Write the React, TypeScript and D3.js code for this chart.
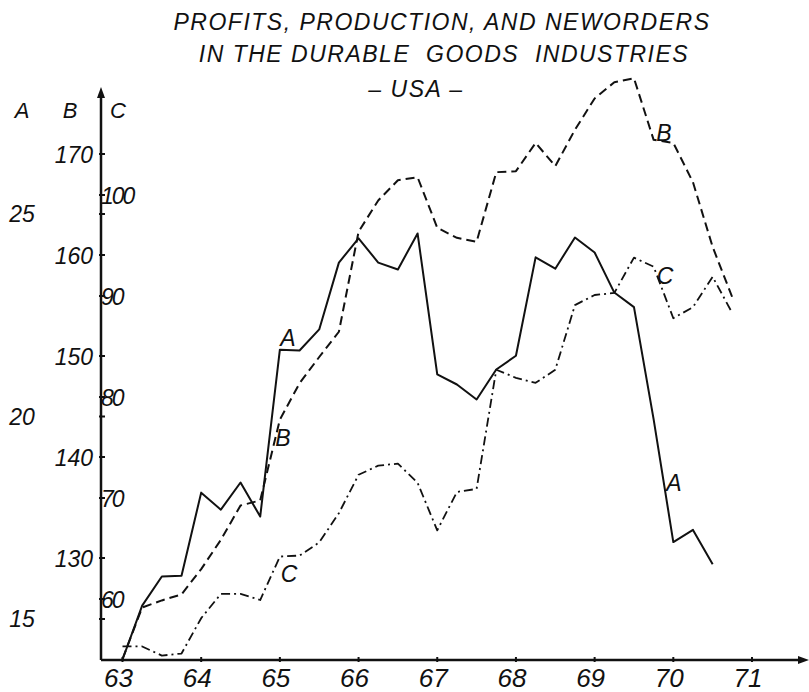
import React from "react";
import * as d3 from "d3";

// ---- data ----
const quarters = [
  63, 63.25, 63.5, 63.75, 64, 64.25, 64.5, 64.75,
  65, 65.25, 65.5, 65.75, 66, 66.25, 66.5, 66.75,
  67, 67.25, 67.5, 67.75, 68, 68.25, 68.5, 68.75,
  69, 69.25, 69.5, 69.75, 70, 70.25, 70.5, 70.75,
];
// A: profits (ends 70.5)
const profitsA = [
  14.0, 15.33, 16.05, 16.07, 18.12, 17.7, 18.37, 17.53,
  21.65, 21.63, 22.15, 23.8, 24.4, 23.8, 23.63, 24.52,
  21.04, 20.79, 20.42, 21.16, 21.5, 23.93, 23.65, 24.42,
  24.05, 23.06, 22.7, 19.93, 16.9, 17.2, 16.35,
];
// B: production
const productionB = [
  120.0, 125.1, 125.8, 126.4, 128.9, 131.8, 135.2, 135.7,
  143.7, 147.3, 149.9, 152.4, 162.3, 165.4, 167.4, 167.7,
  162.7, 161.7, 161.3, 168.2, 168.3, 171.1, 168.8, 172.4,
  175.5, 177.1, 177.5, 171.4, 171.1, 167.2, 160.8, 155.8,
];
// C: new orders
const newOrdersC = [
  55.3, 55.3, 54.4, 54.6, 58.1, 60.5, 60.5, 59.9,
  64.2, 64.3, 65.6, 68.5, 72.3, 73.2, 73.4, 71.5,
  66.8, 70.6, 70.9, 82.7, 81.9, 81.4, 82.7, 89.1,
  90.1, 90.3, 93.8, 92.9, 87.8, 88.9, 91.9, 88.3,
];
const xTicks = [63, 64, 65, 66, 67, 68, 69, 70, 71];
const ticksA = [15, 20, 25];
const ticksB = [130, 140, 150, 160, 170];
const ticksC = [60, 70, 80, 90, 100];
const titleLines = [
  "PROFITS, PRODUCTION, AND NEWORDERS",
  "IN THE DURABLE  GOODS  INDUSTRIES",
  "– USA –",
];

export default function App() {
  const W = 809, H = 692;
  const axisX = 101, axisY = 660;
  const x = d3.scaleLinear().domain([63, 71]).range([122.5, 752]);
  const yA = d3.scaleLinear().domain([15, 25]).range([619, 214]);
  const yB = d3.scaleLinear().domain([130, 170]).range([558, 154]);
  const yC = d3.scaleLinear().domain([60, 100]).range([599, 195]);

  const mk = (ys: d3.ScaleLinear<number, number>, vals: number[]) =>
    d3.line<number>().x((_, i) => x(quarters[i])).y((v) => ys(v))(vals) || "";

  const font = "'Liberation Sans', Arial, sans-serif";
  const txt = {
    fontFamily: font,
    fontStyle: "italic" as const,
    fill: "#111",
  };
  const ink = "#111";

  return (
    <svg width={W} height={H} style={{ position: "absolute", left: 0, top: 0, background: "#fff" }}>
      {/* title */}
      <g {...txt} fontSize={23} letterSpacing={1.5} textAnchor="middle">
        <text x={442} y={30}>{titleLines[0]}</text>
        <text x={444} y={62} style={{ whiteSpace: "pre" }}>{titleLines[1]}</text>
        <text x={416} y={97}>{titleLines[2]}</text>
      </g>

      {/* axis headers */}
      <g {...txt} fontSize={22} textAnchor="middle">
        <text x={22} y={118}>A</text>
        <text x={70} y={118}>B</text>
        <text x={118} y={118}>C</text>
      </g>

      {/* axes */}
      <line x1={axisX} y1={axisY} x2={axisX} y2={94} stroke={ink} strokeWidth={2.5} />
      <path d={`M${axisX},87 L${axisX - 4},98 L${axisX + 4},98 Z`} fill={ink} />
      <line x1={axisX} y1={axisY} x2={800} y2={axisY} stroke={ink} strokeWidth={2.5} />
      <path d={`M809,${axisY} L798,${axisY - 4} L798,${axisY + 4} Z`} fill={ink} />

      {/* y ticks */}
      {[...ticksA.map((t) => yA(t)), ...ticksB.map((t) => yB(t)), ...ticksC.map((t) => yC(t))].map((yy, i) => (
        <line key={"yt" + i} x1={axisX - 2} x2={axisX + 4} y1={yy} y2={yy} stroke={ink} strokeWidth={2} />
      ))}
      {/* x ticks */}
      {xTicks.map((t) => (
        <line key={"xt" + t} x1={x(t)} x2={x(t)} y1={axisY - 3} y2={axisY + 2} stroke={ink} strokeWidth={2} />
      ))}

      {/* tick labels */}
      <g {...txt} fontSize={23}>
        {ticksA.map((t) => (
          <text key={"la" + t} x={22} y={yA(t) + 8} textAnchor="middle">{t}</text>
        ))}
        {ticksB.map((t) => (
          <text key={"lb" + t} x={93} y={yB(t) + 9} textAnchor="end">{t}</text>
        ))}
      </g>
      <g {...txt} fontSize={23} letterSpacing={-2}>
        {ticksC.map((t) => (
          <text key={"lc" + t} x={101} y={yC(t) + 9} textAnchor="start">{t}</text>
        ))}
      </g>
      <g {...txt} fontSize={26} textAnchor="middle">
        {xTicks.map((t) => (
          <text key={"lx" + t} x={x(t) - 4} y={687}>{t}</text>
        ))}
      </g>

      {/* series */}
      <path d={mk(yC, newOrdersC)} fill="none" stroke={ink} strokeWidth={1.8} strokeDasharray="9,4,2,4" strokeLinejoin="round" />
      <path d={mk(yB, productionB)} fill="none" stroke={ink} strokeWidth={2} strokeDasharray="9,5" strokeLinejoin="round" />
      <path d={mk(yA, profitsA)} fill="none" stroke={ink} strokeWidth={2} strokeLinejoin="round" />

      {/* line labels */}
      <g {...txt} fontSize={23} textAnchor="middle">
        <text x={288} y={346}>A</text>
        <text x={283} y={446}>B</text>
        <text x={289} y={582}>C</text>
        <text x={664} y={141}>B</text>
        <text x={665} y={284}>C</text>
        <text x={674} y={491}>A</text>
      </g>
    </svg>
  );
}
